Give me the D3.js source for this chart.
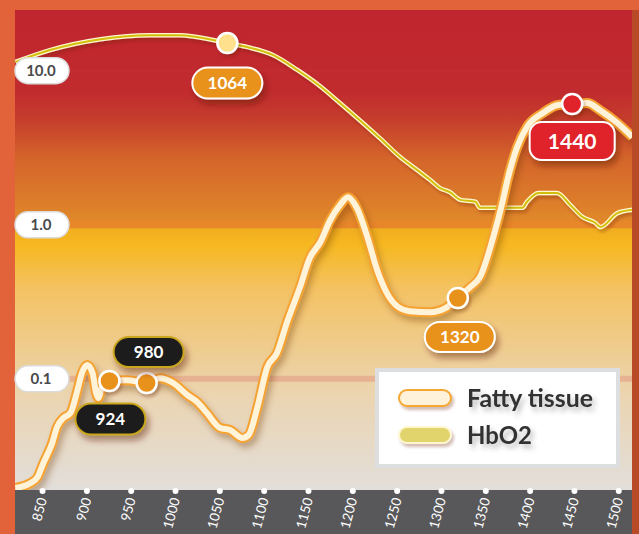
<!DOCTYPE html>
<html>
<head>
<meta charset="utf-8">
<script src="https://cdn.jsdelivr.net/npm/d3@7"></script>
<style>
  body { margin: 0; background: #E2623A; }
  svg { display: block; font-family: Lato, "Open Sans", sans-serif; }
</style>
</head>
<body>
<svg id="chart" width="639" height="534"></svg>
<script>
// 吸収スペクトル (wavelength nm / absorption, log)
const fatWl = [820, 837, 845, 851.5, 861.5, 867, 874, 882, 890, 895, 901, 907, 911, 913.5, 919, 926, 946, 968, 983, 998,
  1014, 1025, 1036, 1051, 1062, 1076, 1083, 1093, 1104, 1115, 1126, 1141, 1152, 1164, 1175, 1186, 1195, 1205, 1217, 1228,
  1239, 1252, 1265, 1288, 1305, 1319, 1333, 1344, 1359, 1370, 1375, 1386, 1397, 1415, 1432, 1448, 1465, 1479, 1499, 1516];
const fatVal = [0.0196, 0.0211, 0.0231, 0.0284, 0.0384, 0.0488, 0.0557, 0.060, 0.0847, 0.109, 0.123, 0.109, 0.081, 0.075, 0.094, 0.0968, 0.098, 0.094, 0.101, 0.094,
  0.0785, 0.0708, 0.060, 0.048, 0.0466, 0.0413, 0.0432, 0.0657, 0.119, 0.147, 0.230, 0.394, 0.608, 0.773, 1.07, 1.34, 1.51, 1.29, 0.832, 0.508,
  0.360, 0.292, 0.275, 0.271, 0.288, 0.335, 0.394, 0.458, 0.832, 1.45, 1.95, 3.20, 4.31, 5.31, 5.98, 6.07, 6.16, 5.56, 4.57, 3.71];

const hbWl = [820, 859, 916, 972, 1006, 1043, 1059, 1082, 1111, 1138, 1162, 1186, 1231, 1254, 1273, 1288, 1299, 1310, 1322, 1339,
  1344, 1392, 1397, 1410, 1431, 1446, 1460, 1474, 1480, 1499, 1516];
const hbVal = [11.4, 13.6, 16.0, 17.0, 17.0, 15.8, 15.1, 14.2, 12.6, 10.1, 8.07, 6.17, 3.65, 2.75, 2.27, 1.95, 1.73, 1.63, 1.45, 1.41,
  1.29, 1.29, 1.41, 1.61, 1.61, 1.34, 1.12, 1.03, 0.966, 1.19, 1.25];

const xTicks = [850, 900, 950, 1000, 1050, 1100, 1150, 1200, 1250, 1300, 1350, 1400, 1450, 1500];
const yTicks = [0.1, 1, 10];
const yTickLabels = ["0.1", "1.0", "10.0"];

// ピーク表示
const peakLabels = ["924", "980", "1064", "1320", "1440"];
const peakWl = [926, 968, 1059, 1319, 1448];
const peakSeries = ["fat", "fat", "hb", "fat", "fat"];

const seriesNames = ["Fatty tissue", "HbO2"];

const width = 639, height = 534;
const plot = { left: 15, right: 632, top: 10, bottom: 490 };
const svg = d3.select("#chart");

const x = d3.scaleLinear().domain([819.5, 1515.5]).range([plot.left, plot.right]);
const y = d3.scaleLog().domain([0.019, 24.75]).range([plot.bottom, plot.top]);

const defs = svg.append("defs");

// 背景グラデーション
const grad = defs.append("linearGradient").attr("id", "bg")
  .attr("gradientUnits", "userSpaceOnUse")
  .attr("x1", 0).attr("x2", 0).attr("y1", plot.top).attr("y2", plot.bottom);
[[0, "#BF252E"], [0.17, "#C12B2E"], [0.23, "#C63E2C"], [0.31, "#D4652A"], [0.44, "#E0882A"],
 [0.455, "#F1AE20"], [0.49, "#F6B821"], [0.58, "#F4C262"], [0.69, "#EFCB8A"], [0.81, "#EBD5B2"], [1, "#E2DEDA"]]
  .forEach(([o, c]) => grad.append("stop").attr("offset", o).attr("stop-color", c));

function shadow(id, dx, dy, sd, op, color) {
  defs.append("filter").attr("id", id)
    .attr("x", "-20%").attr("y", "-20%").attr("width", "150%").attr("height", "160%")
    .append("feDropShadow")
    .attr("dx", dx).attr("dy", dy).attr("stdDeviation", sd)
    .attr("flood-color", color).attr("flood-opacity", op);
}
shadow("lineShadow", 3, 5, 3, 0.35, "#6a3000");
shadow("thinShadow", 2, 3, 1.5, 0.3, "#6a2000");
shadow("pillShadow", 3, 5, 3, 0.45, "#5a1a00");
shadow("textShadow", 3, 4, 2.5, 0.35, "#444");

defs.append("clipPath").attr("id", "clip").append("rect")
  .attr("x", plot.left).attr("y", plot.top)
  .attr("width", plot.right - plot.left).attr("height", plot.bottom - plot.top);

// 枠
svg.append("rect").attr("x", 0).attr("y", 0).attr("width", width).attr("height", height).attr("fill", "#E2623A");
svg.append("rect").attr("x", plot.right).attr("y", plot.top).attr("width", width - plot.right).attr("height", height - plot.top).attr("fill", "#B84A28");
svg.append("rect").attr("x", plot.left).attr("y", plot.top)
  .attr("width", plot.right - plot.left).attr("height", plot.bottom - plot.top)
  .attr("fill", "url(#bg)");

// 目盛りの帯
const bandColor = { 0.1: "#E7B291", 1: "#E8862A", 10: "#C32C30" };
const bandWidth = { 0.1: 6, 1: 7, 10: 3 };
svg.append("g").selectAll("line").data(yTicks).join("line")
  .attr("x1", plot.left).attr("x2", plot.right)
  .attr("y1", d => y(d)).attr("y2", d => y(d))
  .attr("stroke", d => bandColor[d]).attr("stroke-width", d => bandWidth[d]);

// 線
const line = (wl, val) => d3.line().curve(d3.curveMonotoneX)
  .x((d, i) => x(wl[i])).y(d => y(d))(val);

const lines = svg.append("g").attr("clip-path", "url(#clip)");

const hbG = lines.append("g").attr("filter", "url(#thinShadow)");
hbG.append("path").attr("d", line(hbWl, hbVal)).attr("fill", "none")
  .attr("stroke", "#FFF8D0").attr("stroke-width", 4.5).attr("stroke-linejoin", "round");
hbG.append("path").attr("d", line(hbWl, hbVal)).attr("fill", "none")
  .attr("stroke", "#D4BE08").attr("stroke-width", 2).attr("stroke-linejoin", "round");

const fatG = lines.append("g").attr("filter", "url(#lineShadow)");
fatG.append("path").attr("d", line(fatWl, fatVal)).attr("fill", "none")
  .attr("stroke", "#F6A232").attr("stroke-width", 10).attr("stroke-linejoin", "round");
fatG.append("path").attr("d", line(fatWl, fatVal)).attr("fill", "none")
  .attr("stroke", "#FFF4DA").attr("stroke-width", 6).attr("stroke-linejoin", "round");

// ピーク
function valueAt(wl, val, w) {
  const i = Math.max(1, d3.bisectLeft(wl, w));
  const t = (w - wl[i - 1]) / (wl[i] - wl[i - 1]);
  return Math.pow(10, Math.log10(val[i - 1]) + t * (Math.log10(val[i]) - Math.log10(val[i - 1])));
}
const peakStyle = [
  { dot: "#E8921E", pill: "#1E1E1E", border: "#C9A61E", dx: 1, dy: 38, w: 70, h: 31, rx: 15.5, fs: 17 },
  { dot: "#E8921E", pill: "#1E1E1E", border: "#C9A61E", dx: 2, dy: -31, w: 70, h: 30, rx: 15, fs: 17 },
  { dot: "#FFE08C", pill: "#E8921E", border: "#FFFFFF", dx: 0, dy: 40, w: 70, h: 31, rx: 15.5, fs: 17 },
  { dot: "#E8921E", pill: "#E8921E", border: "#FFFFFF", dx: 2, dy: 39, w: 70, h: 30, rx: 15, fs: 17 },
  { dot: "#E0202C", pill: "#E0202C", border: "#FFFFFF", dx: 0, dy: 37, w: 85, h: 38, rx: 12, fs: 21 }
];
const peaks = peakLabels.map((label, i) => {
  const v = peakSeries[i] === "fat" ? valueAt(fatWl, fatVal, peakWl[i]) : valueAt(hbWl, hbVal, peakWl[i]);
  return { label, cx: x(peakWl[i]), cy: y(v), s: peakStyle[i] };
});

const pg = svg.append("g");
pg.selectAll("circle").data(peaks).join("circle")
  .attr("cx", d => d.cx).attr("cy", d => d.cy).attr("r", 10)
  .attr("fill", d => d.s.dot).attr("stroke", "#fff").attr("stroke-width", 2.5)
  .attr("filter", "url(#thinShadow)");

const pill = pg.selectAll("g.pill").data(peaks).join("g").attr("class", "pill")
  .attr("transform", d => `translate(${d.cx + d.s.dx},${d.cy + d.s.dy})`);
pill.append("rect")
  .attr("x", d => -d.s.w / 2).attr("y", d => -d.s.h / 2)
  .attr("width", d => d.s.w).attr("height", d => d.s.h).attr("rx", d => d.s.rx)
  .attr("fill", d => d.s.pill).attr("stroke", d => d.s.border).attr("stroke-width", 2)
  .attr("filter", "url(#pillShadow)");
pill.append("text").attr("text-anchor", "middle").attr("dy", "0.36em")
  .attr("fill", "#fff").attr("font-weight", 700).attr("font-size", d => d.s.fs)
  .text(d => d.label);

// Y 目盛り
const yg = svg.append("g").selectAll("g").data(yTicks).join("g")
  .attr("transform", d => `translate(${plot.left},${y(d)})`);
yg.append("rect").attr("x", 0).attr("y", -13).attr("width", 54).attr("height", 26).attr("rx", 13)
  .attr("fill", "#fff").attr("stroke", "#DCDCDC").attr("stroke-width", 1.5);
yg.append("text").attr("x", 26).attr("dy", "0.36em").attr("text-anchor", "middle")
  .attr("fill", "#4A4A4A").attr("font-weight", 700).attr("font-size", 15)
  .text((d, i) => yTickLabels[i]);

// X 軸
svg.append("rect").attr("x", plot.left).attr("y", plot.bottom)
  .attr("width", plot.right - plot.left).attr("height", height - plot.bottom).attr("fill", "#58585A");
const xAxis = svg.append("g").attr("transform", `translate(0,${plot.bottom})`)
  .call(d3.axisBottom(x).tickValues(xTicks).tickSize(0).tickFormat(d3.format("d")));
xAxis.select(".domain").remove();
xAxis.selectAll(".tick").append("circle").attr("r", 3).attr("cy", 1).attr("fill", "#fff");
xAxis.selectAll(".tick text")
  .attr("fill", "#fff").attr("font-size", 13.5).attr("font-family", "Lato, sans-serif")
  .attr("text-anchor", "end").attr("y", 0).attr("dy", "0.35em")
  .attr("transform", "translate(0,8) rotate(-75)");

// 凡例
const lg = svg.append("g").attr("transform", "translate(377,370)");
lg.append("rect").attr("width", 241).attr("height", 96)
  .attr("fill", "#fff").attr("stroke", "#DDDEE0").attr("stroke-width", 4);
const swFill = ["#FFF2DA", "#E2D46C"];
const swStroke = ["#F5A830", "#FFF6D0"];
const li = lg.selectAll("g.item").data(seriesNames).join("g").attr("class", "item")
  .attr("transform", (d, i) => `translate(22,${28 + i * 37})`);
li.append("rect").attr("x", 0).attr("y", -8).attr("width", 52).attr("height", 16).attr("rx", 8)
  .attr("fill", (d, i) => swFill[i]).attr("stroke", (d, i) => swStroke[i]).attr("stroke-width", 2)
  .attr("filter", "url(#thinShadow)");
li.append("text").attr("x", 68).attr("y", 9)
  .attr("font-size", 25).attr("font-weight", 700).attr("fill", "#333")
  .attr("filter", "url(#textShadow)")
  .attr("textLength", (d, i) => [126, 65][i]).attr("lengthAdjust", "spacingAndGlyphs")
  .text(d => d);
</script>
</body>
</html>
